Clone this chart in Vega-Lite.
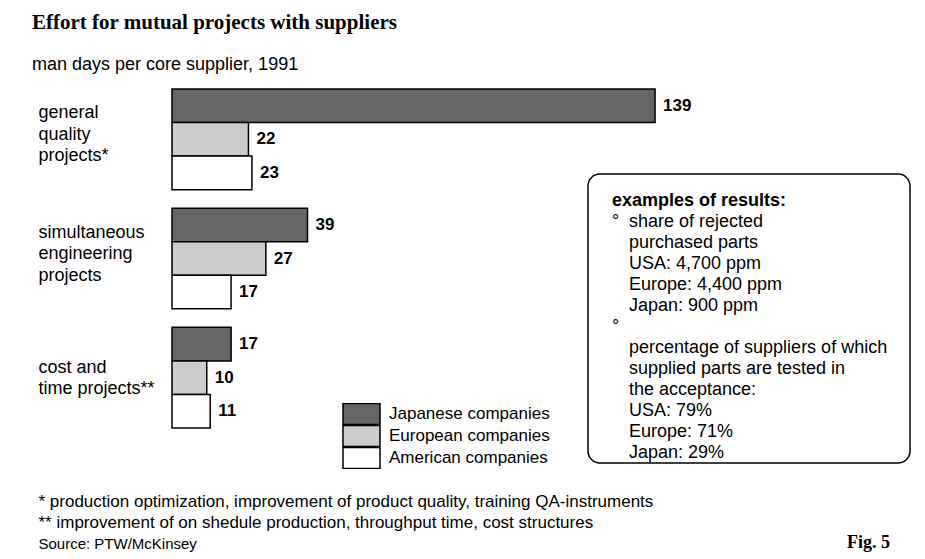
{
  "$schema": "https://vega.github.io/schema/vega-lite/v6.json",
  "background": "white",
  "padding": {"left": 32, "top": 11, "right": 5, "bottom": 5},
  "title": {
    "text": "Effort for mutual projects with suppliers",
    "subtitle": "man days per core supplier, 1991",
    "anchor": "start",
    "font": "Liberation Serif",
    "fontSize": 21,
    "fontWeight": "bold",
    "color": "black",
    "subtitleFont": "Liberation Sans",
    "subtitleFontSize": 18,
    "subtitleColor": "black",
    "subtitlePadding": 23,
    "offset": 10,
    "dx": -6
  },
  "config": {"view": {"stroke": null}, "font": "Liberation Sans"},
  "spacing": 28,
  "vconcat": [
    {
      "bounds": "flush",
      "spacing": 16,
      "hconcat": [
        {
          "width": 400,
          "height": 339,
          "data": {
            "values": [
              {"project": "general quality projects*", "company": "Japanese companies", "days": 139},
              {"project": "general quality projects*", "company": "European companies", "days": 22},
              {"project": "general quality projects*", "company": "American companies", "days": 23},
              {"project": "simultaneous engineering projects", "company": "Japanese companies", "days": 39},
              {"project": "simultaneous engineering projects", "company": "European companies", "days": 27},
              {"project": "simultaneous engineering projects", "company": "American companies", "days": 17},
              {"project": "cost and time projects**", "company": "Japanese companies", "days": 17},
              {"project": "cost and time projects**", "company": "European companies", "days": 10},
              {"project": "cost and time projects**", "company": "American companies", "days": 11}
            ]
          },
          "encoding": {
            "y": {
              "field": "project",
              "type": "nominal",
              "sort": ["general quality projects*", "simultaneous engineering projects", "cost and time projects**"],
              "scale": {"paddingInner": 0.155, "paddingOuter": 0},
              "axis": {
                "title": null,
                "domain": false,
                "ticks": false,
                "grid": false,
                "labelAlign": "left",
                "labelPadding": 134,
                "labelFontSize": 18,
                "labelColor": "black",
                "labelLineHeight": 21.5,
                "labelOffset": {"condition": {"test": "datum.value == 'cost and time projects**'", "value": -10}, "value": -26},
                "labelLimit": 300,
                "labelExpr": "datum.value == 'general quality projects*' ? ['general', 'quality', 'projects*'] : datum.value == 'simultaneous engineering projects' ? ['simultaneous', 'engineering', 'projects'] : ['cost and', 'time projects**']"
              }
            },
            "yOffset": {
              "field": "company",
              "type": "nominal",
              "sort": ["Japanese companies", "European companies", "American companies"],
              "scale": {"paddingInner": 0, "paddingOuter": 0}
            },
            "x": {
              "field": "days",
              "type": "quantitative",
              "stack": null,
              "scale": {"domain": [0, 115.1], "nice": false, "zero": true},
              "axis": null
            }
          },
          "layer": [
            {
              "mark": {"type": "bar", "stroke": "black", "strokeWidth": 1.5, "opacity": 1},
              "encoding": {
                "color": {
                  "field": "company",
                  "type": "nominal",
                  "sort": ["Japanese companies", "European companies", "American companies"],
                  "scale": {
                    "domain": ["Japanese companies", "European companies", "American companies"],
                    "range": ["#666666", "#cccccc", "#ffffff"]
                  },
                  "legend": {
                    "title": null,
                    "orient": "none",
                    "legendX": 170,
                    "legendY": 314,
                    "symbolType": "M-1,-0.567H1V0.567H-1Z",
                    "symbolSize": 1369,
                    "symbolStrokeColor": "black",
                    "symbolStrokeWidth": 1.5,
                    "symbolOpacity": 1,
                    "labelFontSize": 17,
                    "labelColor": "black",
                    "labelOffset": 8,
                    "labelLimit": 300,
                    "clipHeight": 22,
                    "rowPadding": 0,
                    "padding": 0
                  }
                }
              }
            },
            {
              "mark": {"type": "text", "align": "left", "baseline": "middle", "dx": 8, "fontSize": 17, "fontWeight": "bold", "color": "black"},
              "encoding": {"text": {"field": "days", "type": "quantitative"}}
            }
          ]
        },
        {
          "bounds": "flush",
          "spacing": 84,
          "vconcat": [
            {
              "width": 1,
              "height": 1,
              "data": {"values": [{"t": ""}]},
              "mark": {"type": "text"},
              "encoding": {"text": {"field": "t"}}
            },
            {
              "width": 322,
              "height": 289,
              "view": {"stroke": "black", "strokeWidth": 1.5, "cornerRadius": 12},
              "data": {
                "values": [
                  {"line": 1, "indent": 0, "role": "heading", "text": "examples of results:"},
                  {"line": 2, "indent": 0, "role": "bullet", "text": "°"},
                  {"line": 2, "indent": 1, "role": "body", "text": "share of rejected"},
                  {"line": 3, "indent": 1, "role": "body", "text": "purchased parts"},
                  {"line": 4, "indent": 1, "role": "body", "text": "USA: 4,700 ppm"},
                  {"line": 5, "indent": 1, "role": "body", "text": "Europe: 4,400 ppm"},
                  {"line": 6, "indent": 1, "role": "body", "text": "Japan: 900 ppm"},
                  {"line": 7, "indent": 0, "role": "bullet", "text": "°"},
                  {"line": 8, "indent": 1, "role": "body", "text": "percentage of suppliers of which"},
                  {"line": 9, "indent": 1, "role": "body", "text": "supplied parts are tested in"},
                  {"line": 10, "indent": 1, "role": "body", "text": "the acceptance:"},
                  {"line": 11, "indent": 1, "role": "body", "text": "USA: 79%"},
                  {"line": 12, "indent": 1, "role": "body", "text": "Europe: 71%"},
                  {"line": 13, "indent": 1, "role": "body", "text": "Japan: 29%"}
                ]
              },
              "encoding": {
                "y": {
                  "field": "line",
                  "type": "ordinal",
                  "scale": {"type": "point", "domain": [1, 2, 3, 4, 5, 6, 7, 8, 9, 10, 11, 12, 13], "padding": 0.88, "align": 0.73},
                  "axis": null
                },
                "x": {
                  "field": "indent",
                  "type": "ordinal",
                  "scale": {"type": "point", "domain": [0, 1], "range": [24, 41], "padding": 0},
                  "axis": null
                },
                "text": {"field": "text"}
              },
              "layer": [
                {
                  "transform": [{"filter": "datum.role == 'heading'"}],
                  "mark": {"type": "text", "align": "left", "baseline": "middle", "fontSize": 18, "fontWeight": "bold", "color": "black"}
                },
                {
                  "transform": [{"filter": "datum.role != 'heading'"}],
                  "mark": {"type": "text", "align": "left", "baseline": "middle", "fontSize": 18, "color": "black"}
                }
              ]
            }
          ]
        }
      ]
    },
    {
      "width": 718,
      "height": 42,
      "data": {
        "values": [
          {"line": 1, "text": "* production optimization, improvement of product quality, training QA-instruments", "figure": ""},
          {"line": 2, "text": "** improvement of on shedule production, throughput time, cost structures", "figure": ""},
          {"line": 3, "text": "Source: PTW/McKinsey", "figure": "Fig. 5"}
        ]
      },
      "mark": {"type": "text", "align": "right", "baseline": "middle", "fontSize": 18, "font": "Liberation Serif", "fontWeight": "bold", "color": "black"},
      "encoding": {
        "y": {
          "field": "text",
          "type": "nominal",
          "sort": {"field": "line", "order": "ascending"},
          "scale": {"type": "point", "padding": 0},
          "axis": {
            "title": null,
            "domain": false,
            "ticks": false,
            "grid": false,
            "labelAlign": "left",
            "labelPadding": 134,
            "labelLimit": 900,
            "labelColor": "black",
            "labelFontSize": {"condition": {"test": "indexof(datum.value, 'Source') == 0", "value": 15}, "value": 17}
          }
        },
        "x": {"value": "width"},
        "text": {"field": "figure"}
      }
    }
  ]
}
